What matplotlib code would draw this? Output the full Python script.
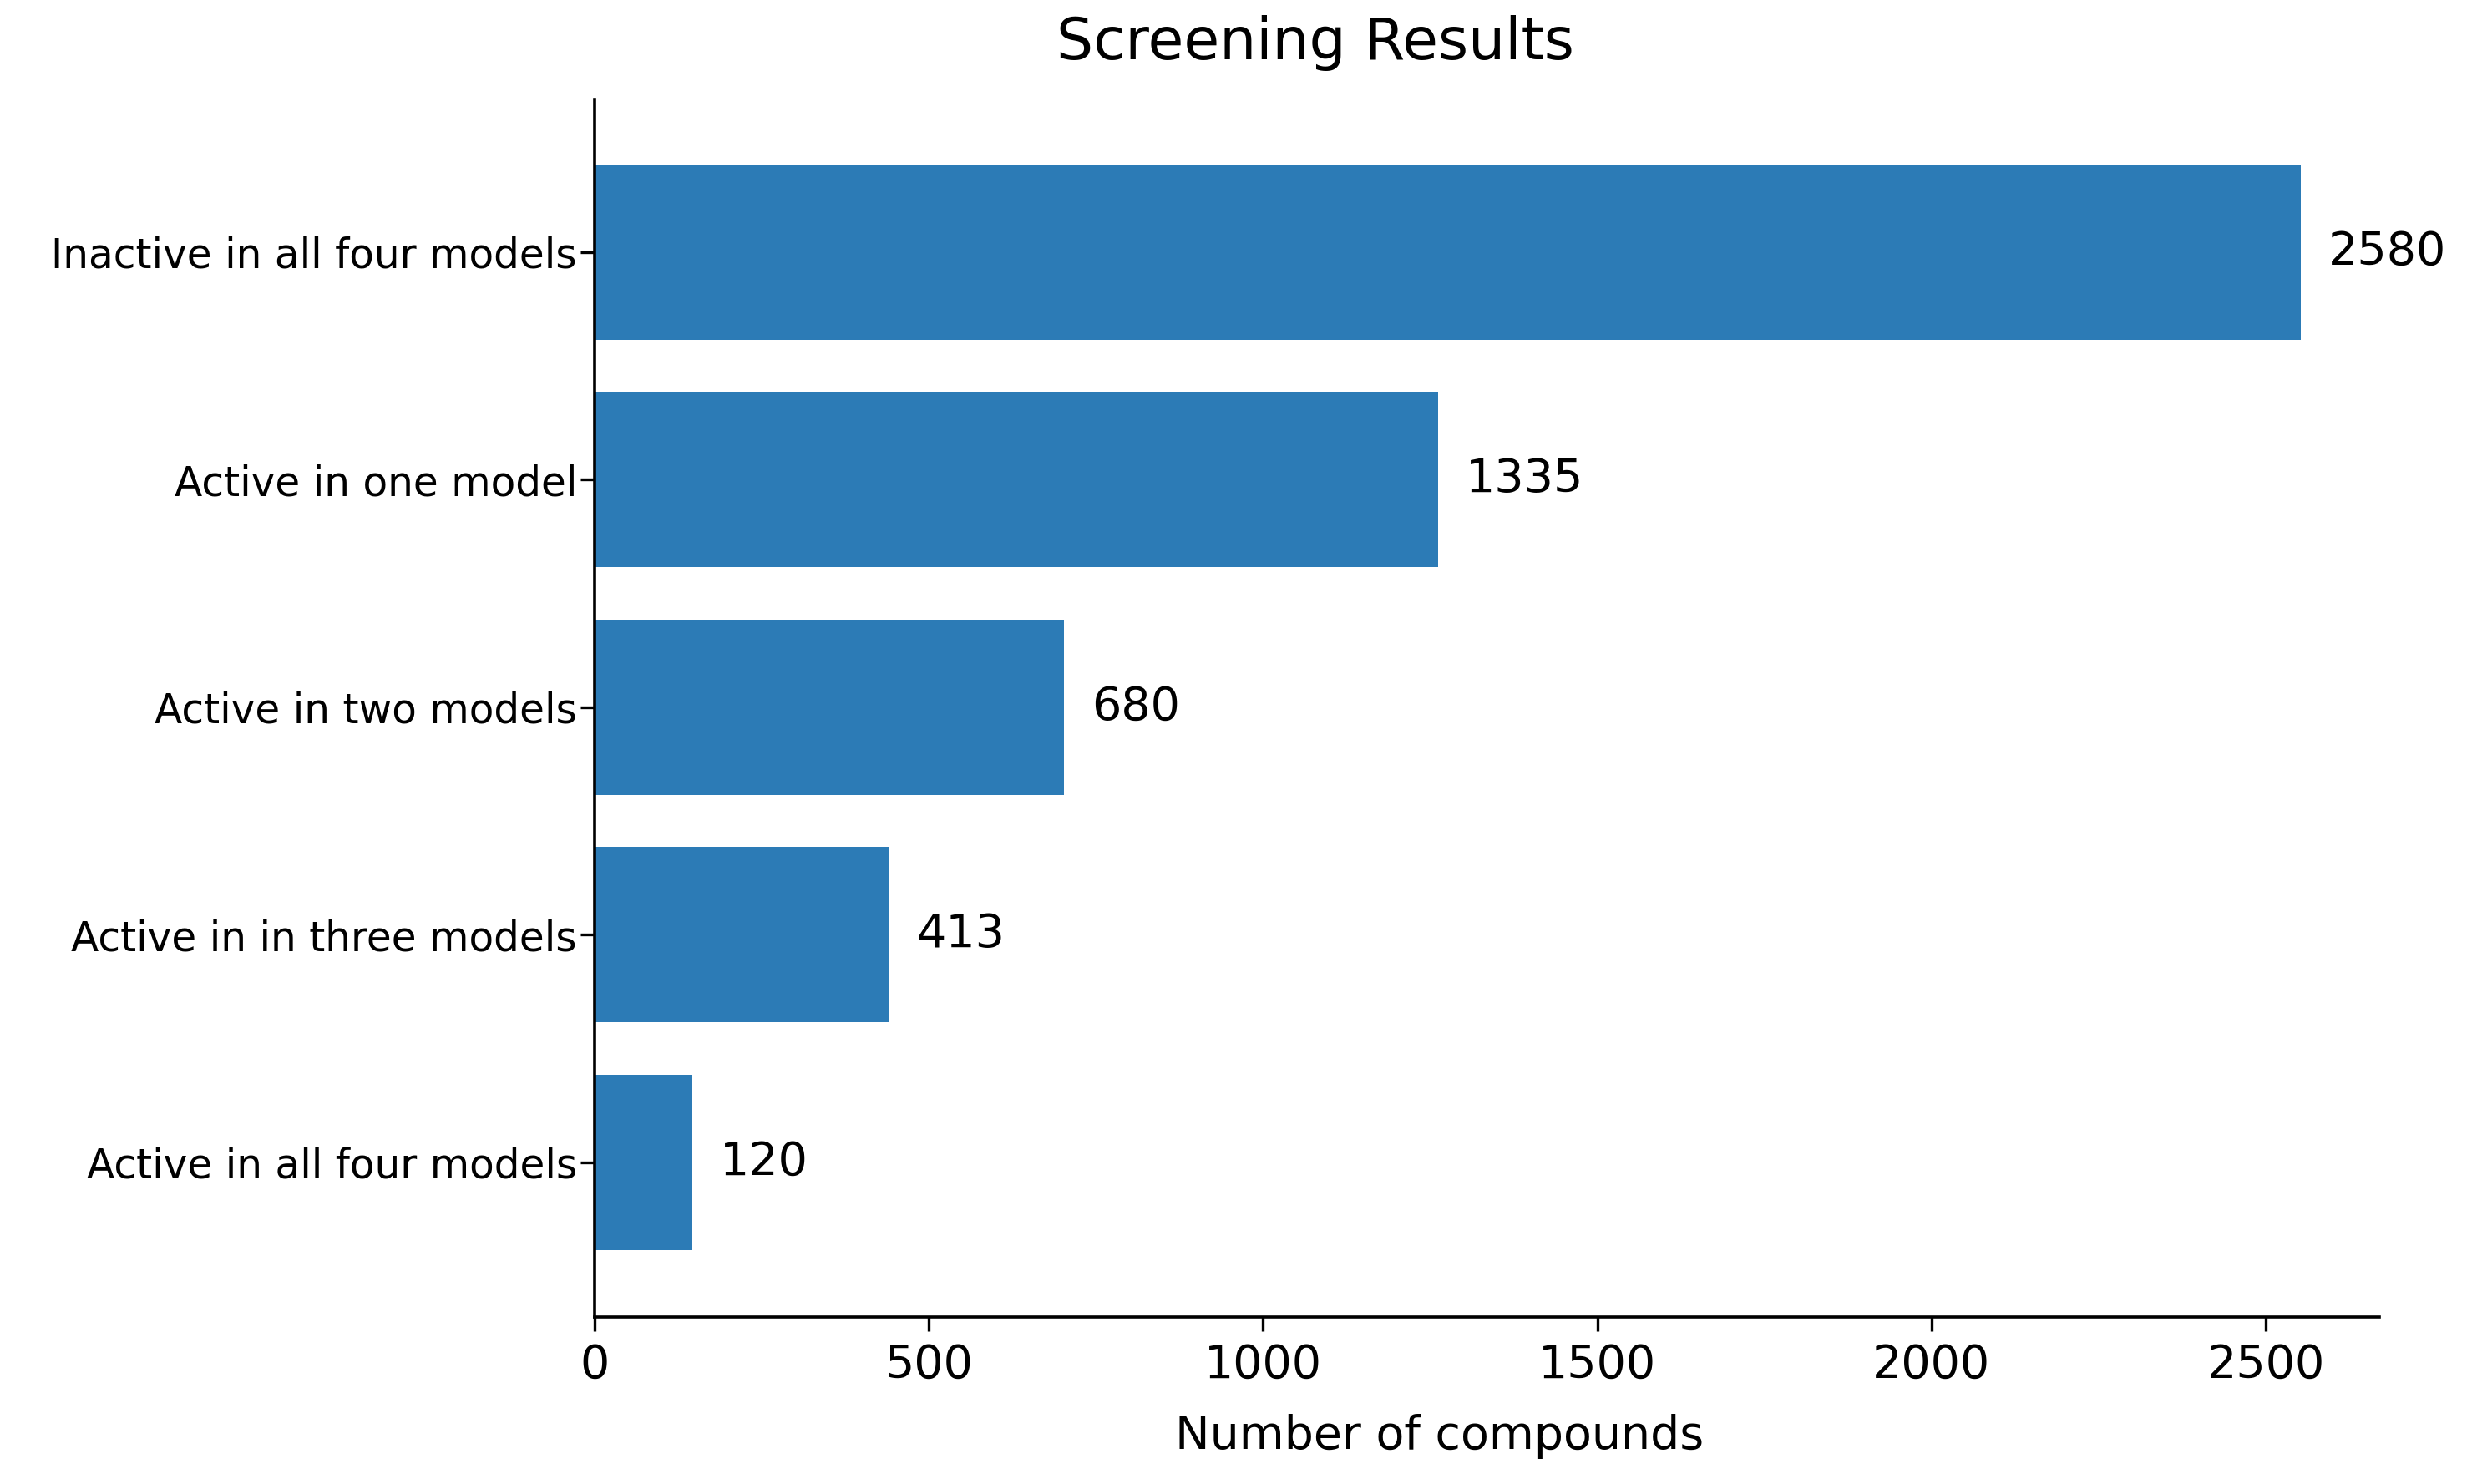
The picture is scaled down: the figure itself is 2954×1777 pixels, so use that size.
import matplotlib
matplotlib.use("Agg")
import matplotlib.pyplot as plt

categories = ["Inactive in all four models", "Active in one model", "Active in two models",
              "Active in in three models", "Active in all four models"]
bar_values = [2552, 1262, 702, 440, 146]
value_labels = ["2580", "1335", "680", "413", "120"]
xticks = [0, 500, 1000, 1500, 2000, 2500]

plt.rcParams['font.family'] = ['DejaVu Sans']
fig = plt.figure(figsize=(14.77, 8.885), dpi=200)
ax = fig.add_axes([0.241, 0.1126, 0.9645 - 0.241, 0.933 - 0.1126])

ypos = list(range(len(categories)))
bars = ax.barh(ypos, bar_values, height=0.77, color='#2c7bb6')
for b, lab in zip(bars, value_labels):
    ax.annotate(lab, xy=(b.get_width(), b.get_y() + b.get_height() / 2),
                xytext=(12, 0), textcoords='offset points', va='center', ha='left', fontsize=20)

ax.set_yticks(ypos)
ax.set_yticklabels(categories, fontsize=17.5)
ax.set_xticks(xticks)
ax.set_xticklabels([str(t) for t in xticks], fontsize=20)
ax.set_xlim(0, 2670)
ax.set_ylim(4.68, -0.67)
ax.spines['top'].set_visible(False)
ax.spines['right'].set_visible(False)
for s in ['left', 'bottom']:
    ax.spines[s].set_linewidth(1.3)
ax.tick_params(axis='y', length=6, width=1.2, pad=1.5)
ax.tick_params(axis='x', length=6, width=1.2, pad=5)

fig.text(0.5836, 0.032, "Number of compounds", ha='center', va='center', fontsize=20)
fig.text(0.533, 0.971, "Screening Results", ha='center', va='center', fontsize=25)

fig.savefig("out.png", dpi=200)
